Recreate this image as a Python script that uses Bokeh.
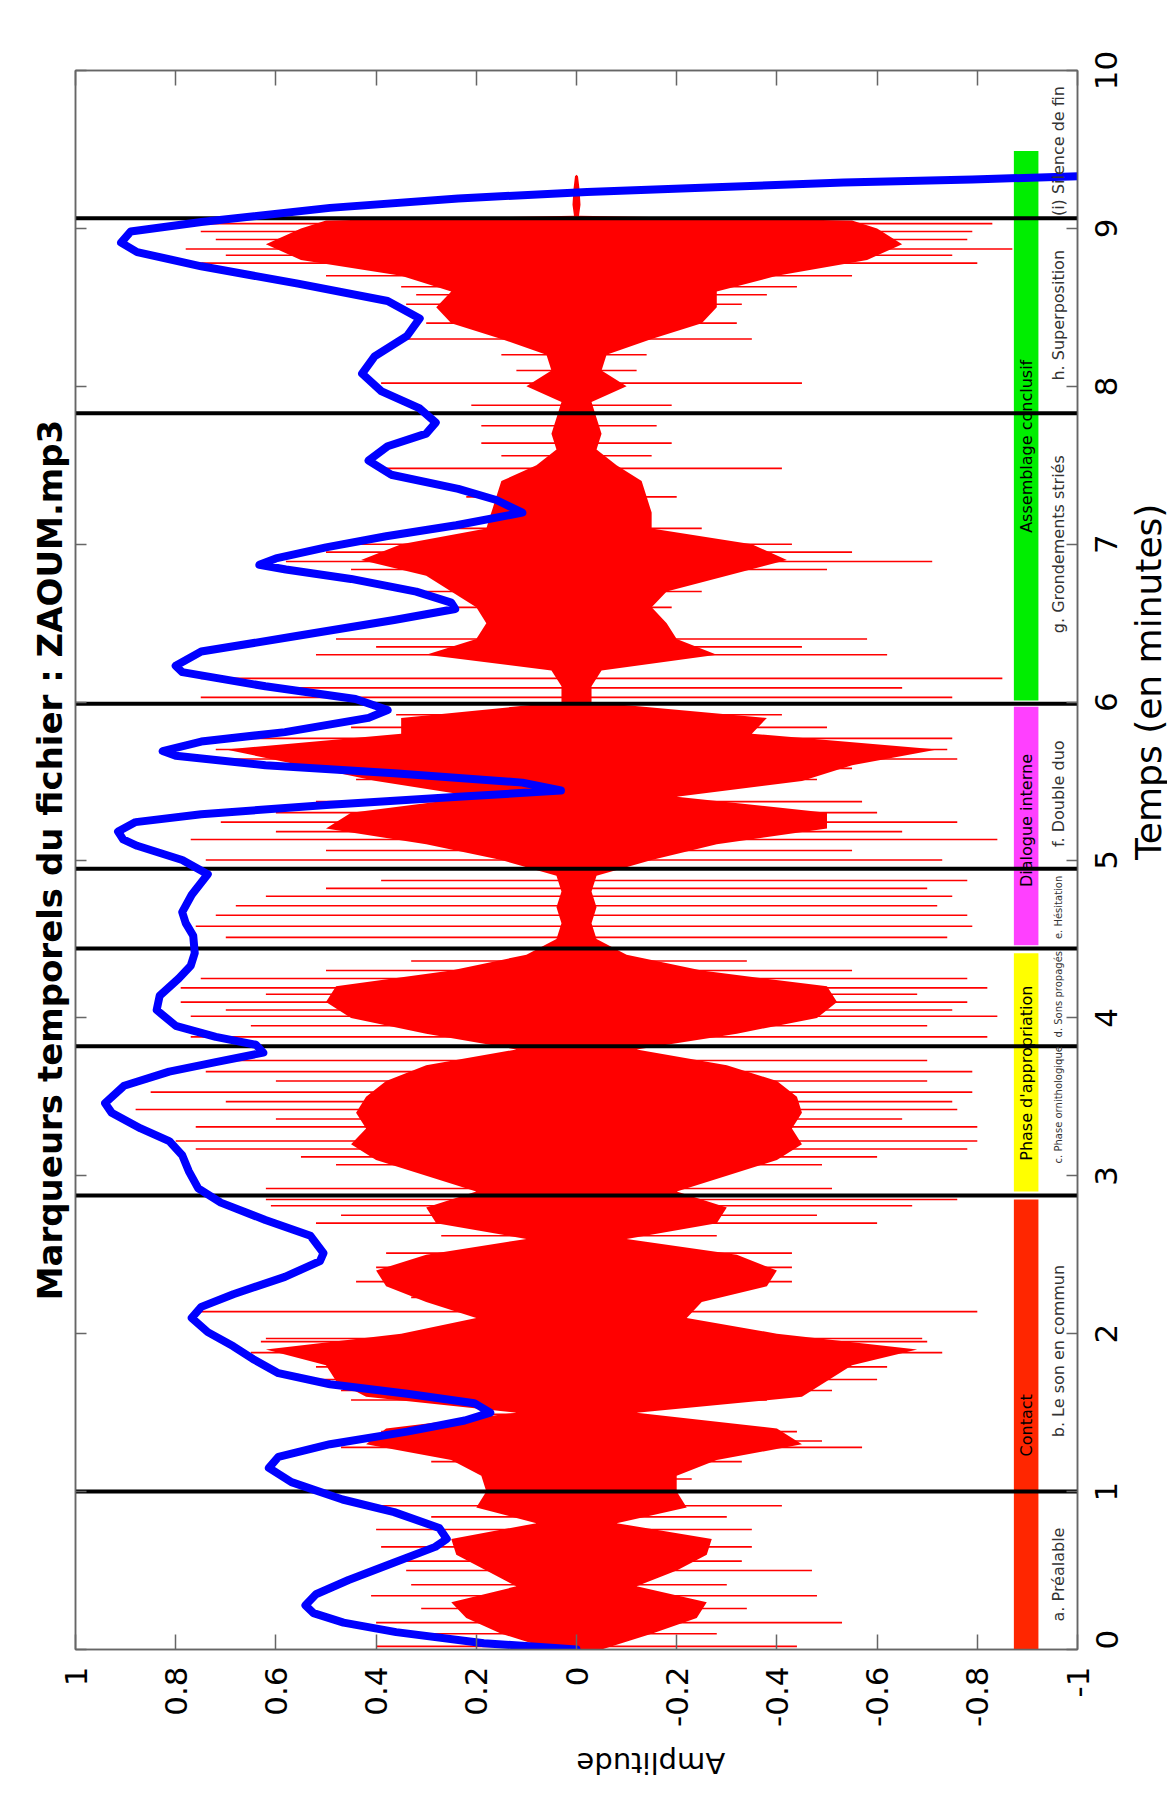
import math
from bokeh.plotting import figure
from bokeh.models import Range1d, LinearAxis, FixedTicker, Title
from bokeh.embed import file_html
from bokeh.resources import INLINE
from bokeh.core.properties import value

# ---------------- data ----------------
amp_ticks = [1, 0.8, 0.6, 0.4, 0.2, 0, -0.2, -0.4, -0.6, -0.8, -1]
amp_tick_labels = ["1", "0.8", "0.6", "0.4", "0.2", "0", "-0.2", "-0.4", "-0.6", "-0.8", "-1"]
time_ticks = [0, 1, 2, 3, 4, 5, 6, 7, 8, 9, 10]
time_tick_labels = ["0", "1", "2", "3", "4", "5", "6", "7", "8", "9", "10"]

# dense core of the waveform (time in minutes, upper / lower amplitude)
core_t = [0.0, 0.1, 0.2, 0.3, 0.4, 0.5, 0.6, 0.7, 0.8, 0.9, 1.0, 1.1, 1.2, 1.3, 1.4, 1.5, 1.6, 1.7, 1.8, 1.9,
          2.0, 2.1, 2.2, 2.3, 2.4, 2.5, 2.6, 2.7, 2.8, 2.9, 3.0, 3.1, 3.2, 3.3, 3.4, 3.5, 3.6, 3.7, 3.8, 3.9,
          4.0, 4.1, 4.2, 4.3, 4.4, 4.5, 4.6, 4.7, 4.8, 4.9, 5.0, 5.1, 5.2, 5.3, 5.4, 5.5, 5.6, 5.7, 5.8, 5.9,
          6.0, 6.1, 6.2, 6.3, 6.4, 6.5, 6.6, 6.7, 6.8, 6.9, 7.0, 7.1, 7.2, 7.3, 7.4, 7.5, 7.6, 7.7, 7.8, 7.9,
          8.0, 8.1, 8.2, 8.3, 8.4, 8.5, 8.6, 8.7, 8.8, 8.9, 9.0, 9.05, 9.08, 9.15, 9.25, 9.33, 9.34]
core_hi = [0.05, 0.15, 0.22, 0.25, 0.12, 0.18, 0.24, 0.25, 0.08, 0.20, 0.18, 0.19, 0.25, 0.42, 0.38, 0.12, 0.42, 0.48, 0.50, 0.62,
           0.35, 0.20, 0.30, 0.38, 0.40, 0.30, 0.10, 0.28, 0.30, 0.20, 0.30, 0.40, 0.45, 0.42, 0.44, 0.42, 0.38, 0.30, 0.12, 0.30,
           0.45, 0.50, 0.48, 0.25, 0.10, 0.04, 0.03, 0.04, 0.03, 0.04, 0.15, 0.30, 0.50, 0.45, 0.20, 0.40, 0.55, 0.70, 0.35, 0.35,
           0.03, 0.03, 0.05, 0.30, 0.20, 0.18, 0.20, 0.25, 0.30, 0.43, 0.35, 0.18, 0.17, 0.16, 0.15, 0.08, 0.04, 0.05, 0.04, 0.03,
           0.10, 0.05, 0.06, 0.15, 0.25, 0.28, 0.25, 0.35, 0.55, 0.62, 0.55, 0.50, 0.005, 0.008, 0.006, 0.003, 0.0]
core_lo = [-0.05, -0.15, -0.24, -0.26, -0.12, -0.20, -0.26, -0.27, -0.08, -0.22, -0.20, -0.20, -0.28, -0.45, -0.40, -0.12, -0.45, -0.50, -0.55, -0.68,
           -0.40, -0.22, -0.25, -0.38, -0.40, -0.32, -0.10, -0.28, -0.30, -0.20, -0.30, -0.40, -0.45, -0.43, -0.45, -0.44, -0.40, -0.30, -0.12, -0.32,
           -0.48, -0.52, -0.50, -0.25, -0.10, -0.04, -0.03, -0.04, -0.03, -0.04, -0.15, -0.28, -0.50, -0.50, -0.20, -0.45, -0.55, -0.72, -0.35, -0.38,
           -0.03, -0.03, -0.05, -0.28, -0.20, -0.18, -0.15, -0.18, -0.30, -0.42, -0.35, -0.15, -0.15, -0.14, -0.13, -0.08, -0.04, -0.05, -0.04, -0.03,
           -0.10, -0.05, -0.06, -0.15, -0.25, -0.28, -0.28, -0.40, -0.58, -0.65, -0.60, -0.55, -0.005, -0.008, -0.006, -0.003, 0.0]

# isolated peaks of the waveform
spike_t = [0.02, 0.17, 0.34, 0.50, 0.65, 0.91, 1.00, 1.28, 1.38, 1.58, 1.71, 1.88, 1.95, 2.14, 2.33, 2.51, 2.70, 2.81,
           2.85, 2.92, 3.07, 3.17, 3.22, 3.31, 3.42, 3.53, 3.66, 3.73, 3.88, 4.01, 4.10, 4.19, 4.25, 4.36, 4.58, 4.65,
           4.77, 4.87, 5.00, 5.13, 5.24, 5.37, 5.51, 5.64, 5.77, 5.92, 6.03, 6.15, 6.30, 6.40, 6.60, 6.89, 7.00, 7.48,
           7.64, 7.75, 7.88, 8.02, 8.30, 8.52, 8.63, 8.78, 8.87, 8.98, 9.03,
           0.10, 0.26, 0.41, 0.56, 0.76, 0.84, 1.08, 1.19, 1.32, 1.49, 1.64, 1.79, 1.97, 2.05, 2.23, 2.42, 2.62, 2.75,
           3.12, 3.36, 3.47, 3.60, 3.95, 4.05, 4.15, 4.30, 4.51, 4.71, 4.82, 5.06, 5.18, 5.30, 5.58, 5.70, 5.84, 6.09,
           6.35, 6.70, 6.84, 6.95, 7.10, 7.30, 7.56, 8.10, 8.20, 8.40, 8.58, 8.70, 8.83, 8.93]
spike_hi = [0.40, 0.40, 0.41, 0.34, 0.39, 0.42, 0.36, 0.47, 0.39, 0.45, 0.51, 0.65, 0.63, 0.76, 0.44, 0.38, 0.52, 0.61,
            0.62, 0.62, 0.48, 0.76, 0.80, 0.76, 0.88, 0.85, 0.74, 0.68, 0.77, 0.77, 0.79, 0.79, 0.75, 0.33, 0.76, 0.72,
            0.62, 0.39, 0.74, 0.77, 0.71, 0.52, 0.44, 0.75, 0.65, 0.36, 0.75, 0.75, 0.52, 0.48, 0.25, 0.58, 0.43, 0.39,
            0.19, 0.19, 0.21, 0.39, 0.34, 0.34, 0.35, 0.77, 0.78, 0.75, 0.81,
            0.29, 0.31, 0.33, 0.36, 0.40, 0.29, 0.18, 0.29, 0.43, 0.17, 0.47, 0.52, 0.62, 0.24, 0.33, 0.40, 0.27, 0.47,
            0.55, 0.60, 0.70, 0.60, 0.65, 0.70, 0.62, 0.50, 0.70, 0.68, 0.50, 0.50, 0.60, 0.60, 0.50, 0.72, 0.45, 0.60,
            0.40, 0.30, 0.45, 0.50, 0.25, 0.22, 0.15, 0.12, 0.15, 0.30, 0.32, 0.50, 0.70, 0.72]
spike_lo = [-0.44, -0.53, -0.48, -0.47, -0.35, -0.41, -0.33, -0.57, -0.44, -0.38, -0.60, -0.73, -0.70, -0.80, -0.43, -0.43, -0.60, -0.67,
            -0.76, -0.51, -0.49, -0.78, -0.80, -0.80, -0.76, -0.79, -0.79, -0.70, -0.82, -0.84, -0.78, -0.82, -0.78, -0.34, -0.79, -0.78,
            -0.75, -0.78, -0.73, -0.84, -0.76, -0.57, -0.48, -0.76, -0.75, -0.41, -0.75, -0.85, -0.62, -0.58, -0.19, -0.71, -0.43, -0.41,
            -0.19, -0.16, -0.19, -0.45, -0.35, -0.33, -0.44, -0.80, -0.87, -0.79, -0.83,
            -0.28, -0.34, -0.30, -0.33, -0.35, -0.30, -0.23, -0.33, -0.49, -0.12, -0.51, -0.62, -0.69, -0.25, -0.23, -0.43, -0.28, -0.48,
            -0.60, -0.65, -0.75, -0.70, -0.70, -0.75, -0.68, -0.55, -0.74, -0.72, -0.70, -0.55, -0.65, -0.60, -0.55, -0.74, -0.50, -0.65,
            -0.45, -0.25, -0.50, -0.55, -0.25, -0.20, -0.15, -0.12, -0.14, -0.32, -0.38, -0.55, -0.75, -0.78]

# smoothed energy curve (blue)
blue_t = [0.00, 0.04, 0.11, 0.17, 0.23, 0.28, 0.35, 0.44, 0.55, 0.65, 0.70, 0.77, 0.87, 0.95, 1.06, 1.15, 1.22, 1.30,
          1.38, 1.45, 1.50, 1.56, 1.62, 1.68, 1.75, 1.84, 1.92, 2.01, 2.10, 2.17, 2.25, 2.36, 2.46, 2.51, 2.62, 2.72,
          2.83, 2.92, 3.03, 3.13, 3.22, 3.30, 3.40, 3.46, 3.57, 3.66, 3.72, 3.78, 3.83, 3.88, 3.95, 4.05, 4.14, 4.25,
          4.33, 4.41, 4.52, 4.60, 4.67, 4.78, 4.91, 5.00, 5.09, 5.13, 5.18, 5.24, 5.29, 5.35, 5.40, 5.44, 5.49, 5.55, 5.60,
          5.66, 5.69, 5.75, 5.81, 5.90, 5.95, 6.02, 6.10, 6.19, 6.23, 6.32, 6.42, 6.52, 6.59, 6.63, 6.70, 6.78, 6.84,
          6.87, 6.91, 6.98, 7.05, 7.12, 7.20, 7.28, 7.35, 7.44, 7.53, 7.62, 7.70, 7.77, 7.86, 7.97, 8.08, 8.19, 8.32,
          8.43, 8.54, 8.65, 8.76, 8.85, 8.91, 8.98, 9.04, 9.13, 9.19, 9.23, 9.26, 9.29, 9.31, 9.33, 9.35]
blue_amp = [0.00, 0.185, 0.36, 0.465, 0.525, 0.541, 0.52, 0.455, 0.365, 0.282, 0.259, 0.274, 0.364, 0.467, 0.569, 0.614, 0.595, 0.492,
            0.338, 0.223, 0.172, 0.204, 0.338, 0.492, 0.595, 0.646, 0.685, 0.736, 0.768, 0.749, 0.685, 0.582, 0.512, 0.505, 0.531, 0.621,
            0.710, 0.755, 0.774, 0.787, 0.813, 0.87, 0.928, 0.941, 0.903, 0.813, 0.72, 0.625, 0.64, 0.72, 0.80, 0.838, 0.832, 0.794,
            0.77, 0.762, 0.765, 0.78, 0.787, 0.768, 0.736, 0.787, 0.877, 0.905, 0.915, 0.88, 0.749, 0.492, 0.236, 0.031, 0.108, 0.364, 0.621,
            0.80, 0.826, 0.749, 0.582, 0.415, 0.377, 0.441, 0.621, 0.787, 0.80, 0.749, 0.556, 0.364, 0.242, 0.25, 0.32, 0.45, 0.58,
            0.633, 0.60, 0.50, 0.38, 0.24, 0.108, 0.16, 0.236, 0.37, 0.415, 0.377, 0.30, 0.281, 0.313, 0.39, 0.428, 0.403, 0.338,
            0.313, 0.377, 0.556, 0.749, 0.877, 0.909, 0.89, 0.749, 0.492, 0.236, -0.021, -0.277, -0.533, -0.79, -1.005, -1.2]

# section boundaries (minutes)
marker_t = [1.0, 2.875, 3.82, 4.44, 4.945, 5.99, 7.83, 9.065]

# coloured phases
phase_start = [0.0, 2.90, 4.46, 6.01]
phase_end = [2.85, 4.41, 5.97, 9.49]
phase_colors = ["#FF2600", "#FFFF00", "#FF40FF", "#00EE00"]
phase_names = ["Contact", "Phase d'appropriation", "Dialogue interne", "Assemblage conclusif"]
phase_name_t = [1.42, 3.65, 5.25, 7.62]

# sub-sections
sub_names_big = ["a. Préalable", "b. Le son en commun", "f. Double duo", "g. Grondements striés",
                 "h. Superposition", "(i) Silence de fin"]
sub_t_big = [0.475, 1.89, 5.42, 7.0, 8.45, 9.49]
sub_names_small = ["c. Phase ornithologique", "d. Sons propagés", "e. Hésitation"]
sub_t_small = [3.45, 4.15, 4.70]

# ---------------- figure ----------------
FONT = "DejaVu Sans"
GREY = "#666666"
LABEL_PX = 31
FRAME_TOP, FRAME_BOTTOM = 70, 1649

p = figure(width=1192, height=1800, x_range=Range1d(1, -1), y_range=Range1d(0, 10),
           output_backend="svg", toolbar_location=None,
           x_axis_location="below", y_axis_location="right",
           min_border_left=75, min_border_top=FRAME_TOP, min_border_right=113,
           min_border_bottom=1800 - FRAME_BOTTOM)
p.xgrid.visible = False
p.ygrid.visible = False
p.outline_line_color = GREY
p.outline_line_width = 1.5
p.background_fill_color = "white"
p.border_fill_color = "white"

# amplitude axis (bottom)
xa = p.xaxis[0]
xa.ticker = FixedTicker(ticks=amp_ticks)
xa.major_label_overrides = dict(zip(amp_ticks, amp_tick_labels))
xa.major_label_orientation = math.pi / 2
xa.major_label_standoff = 17
xa.major_label_text_font = FONT
xa.major_label_text_font_size = f"{LABEL_PX}px"
xa.major_label_text_color = "black"
xa.axis_label = "Amplitude"
xa.axis_label_orientation = math.pi
xa.axis_label_text_font = FONT
xa.axis_label_text_font_style = "normal"
xa.axis_label_text_font_size = "29px"
xa.axis_label_text_color = "black"
xa.axis_label_standoff = 33
xa.major_tick_in = 15

# time axis (right): ticks only
ya = p.yaxis[0]
ya.ticker = FixedTicker(ticks=time_ticks)
ya.major_label_overrides = {t: "" for t in time_ticks}
ya.major_label_standoff = 0
ya.major_tick_in = 11

for ax in (xa, ya):
    ax.major_tick_out = 0
    ax.minor_tick_line_color = None
    ax.axis_line_color = GREY
    ax.axis_line_width = 1.5
    ax.major_tick_line_color = GREY
    ax.major_tick_line_width = 1.5

# time labels (right), each rotated label centred on its tick
px_per_min = (FRAME_BOTTOM - FRAME_TOP) / 10.0
digit_px = 0.636 * LABEL_PX
label_pos = [max(0.0, t - len(s) * digit_px / 2.0 / px_per_min) for t, s in zip(time_ticks, time_tick_labels)]
lab_axis = LinearAxis(ticker=FixedTicker(ticks=label_pos),
                      major_label_overrides=dict(zip(label_pos, time_tick_labels)),
                      major_label_orientation=math.pi / 2, major_label_standoff=23,
                      major_label_text_font=FONT, major_label_text_font_size=f"{LABEL_PX}px",
                      major_label_text_color="black",
                      major_tick_line_color=None, minor_tick_line_color=None, axis_line_color=None,
                      axis_label="Temps (en minutes)", axis_label_orientation=math.pi / 2,
                      axis_label_text_font=FONT, axis_label_text_font_style="normal",
                      axis_label_text_font_size="36px", axis_label_text_color="black",
                      axis_label_standoff=17)
p.add_layout(lab_axis, "right")

top_axis = LinearAxis(ticker=FixedTicker(ticks=amp_ticks), major_tick_in=15, major_tick_out=0,
                      minor_tick_line_color=None, axis_line_color=GREY, axis_line_width=1.5,
                      major_tick_line_color=GREY, major_tick_line_width=1.5,
                      major_label_overrides={t: "" for t in amp_ticks}, major_label_standoff=0)
left_axis = LinearAxis(ticker=FixedTicker(ticks=time_ticks), major_tick_in=11, major_tick_out=0,
                       minor_tick_line_color=None, axis_line_color=GREY, axis_line_width=1.5,
                       major_tick_line_color=GREY, major_tick_line_width=1.5,
                       major_label_overrides={t: "" for t in time_ticks}, major_label_standoff=0)
p.add_layout(top_axis, "above")
p.add_layout(left_axis, "left")
p.add_layout(Title(text="Marqueurs temporels du fichier : ZAOUM.mp3", align="center",
                   text_font=FONT, text_font_style="bold", text_font_size="34px",
                   text_color="black", standoff=12), "left")

# waveform
p.harea(x1=core_lo, x2=core_hi, y=core_t, fill_color="#FF0000")
p.segment(x0=spike_lo, y0=spike_t, x1=spike_hi, y1=spike_t, line_color="#FF0000", line_width=1.6)

# phases strips
p.quad(left=[-0.873] * len(phase_start), right=[-0.922] * len(phase_start),
       bottom=phase_start, top=phase_end, fill_color=phase_colors, line_color=None)

# section boundaries
p.segment(x0=[1.0] * len(marker_t), y0=marker_t, x1=[-1.0] * len(marker_t), y1=marker_t,
          line_color="black", line_width=4)

# blue curve
p.line(x=blue_amp, y=blue_t, line_color="#0000FF", line_width=8, line_join="round", line_cap="round")

# phase names
p.text(x=[-0.8975] * len(phase_names), y=phase_name_t, text=phase_names, angle=math.pi / 2,
       text_align="center", text_baseline="middle", text_font=value(FONT),
       text_font_size="16px", text_color="black")
# sub-sections
p.text(x=[-0.962] * len(sub_names_big), y=sub_t_big, text=sub_names_big, angle=math.pi / 2,
       text_align="center", text_baseline="middle", text_font=value(FONT),
       text_font_size="16px", text_color="#333333")
p.text(x=[-0.962] * len(sub_names_small), y=sub_t_small, text=sub_names_small, angle=math.pi / 2,
       text_align="center", text_baseline="middle", text_font=value(FONT),
       text_font_size="10px", text_color="#333333")

open("out.html", "w").write(file_html(p, INLINE))
